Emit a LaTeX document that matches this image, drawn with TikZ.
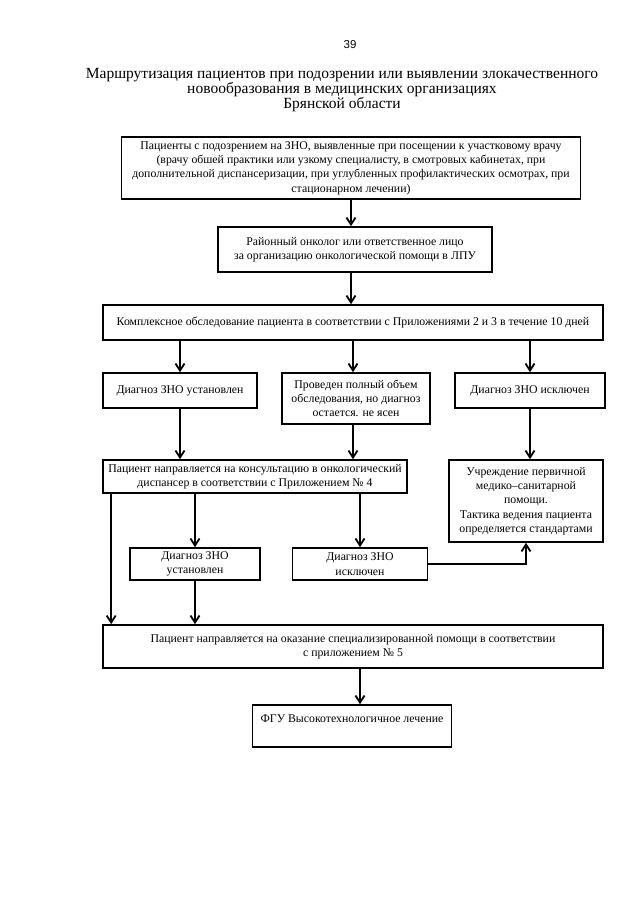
\documentclass[tikz,border=0pt]{standalone}
\usepackage{fontspec}
\setmainfont{Liberation Serif}
\newfontfamily\pagenumfont{Liberation Sans}
\usetikzlibrary{arrows.meta}

\begin{document}
\begin{tikzpicture}[x=1pt,y=-1pt,font=\fontsize{11.8}{14.3}\selectfont,line width=1.8pt,
  >={Straight Barb[length=7pt,width=9pt]},
  box/.style={draw,line width=1.6pt,align=center,inner sep=2pt}]
\fill[white] (0,0) rectangle (640,905);
\useasboundingbox (0,0) rectangle (640,905);
\node[font=\pagenumfont\fontsize{11.5}{13}\selectfont] (pagenum) at (350,45) {39};
\node[font=\fontsize{15.5}{15}\selectfont,align=center] (title) at (342,90)
  {Маршрутизация пациентов при подозрении или выявлении злокачественного\\
   новообразования в медицинских организациях\\ Брянской области};
% first stage
\node[box,minimum width=459pt,minimum height=62pt] (pat) at (351,168)
  {Пациенты с подозрением на ЗНО, выявленные при посещении к участковому врачу\\
   (врачу обшей практики или узкому специалисту, в смотровых кабинетах, при\\
   дополнительной диспансеризации, при углубленных профилактических осмотрах, при\\
   стационарном лечении)};
\node[box,minimum width=274pt,minimum height=45pt] (onk) at (355,249.5)
  {Районный онколог или ответственное лицо\\ за организацию онкологической помощи в ЛПУ};
\node[box,minimum width=500pt,minimum height=35pt] (exam) at (353,322.5)
  {Комплексное обследование пациента в соответствии с Приложениями 2 и 3 в течение 10 дней};
\draw[->] (pat.south) -- (pat.south |- onk.north);
\draw[->] (pat.south |- onk.south) -- (pat.south |- exam.north);
% results
\node[box,minimum width=154pt,minimum height=35pt] (est) at (180,390.5) {Диагноз ЗНО установлен};
\node[box,minimum width=148pt,minimum height=51pt] (unclear) at (356,398.5)
  {Проведен полный объем\\ обследования, но диагноз\\ остается. не ясен};
\node[box,minimum width=150pt,minimum height=35pt] (excl) at (530,390.5) {Диагноз ЗНО исключен};
\draw[->] (est.north |- exam.south) -- (est.north);
\draw[->] (exam.south) -- (exam.south |- unclear.north);
\draw[->] (excl.north |- exam.south) -- (excl.north);
% dispensary
\node[box,minimum width=304pt,minimum height=33pt] (disp) at (255,476.5)
  {Пациент направляется на консультацию в онкологический\\ диспансер в соответствии с Приложением № 4};
\node[box,minimum width=154pt,minimum height=82pt] (pmsp) at (526,501)
  {Учреждение первичной\\ медико–санитарной\\ помощи.\\ Тактика ведения пациента\\ определяется стандартами};
\draw[->] (est.south) -- (est.south |- disp.north);
\draw[->] (exam.south |- unclear.south) -- (exam.south |- disp.north);
\draw[->] (excl.south) -- (excl.south |- pmsp.north);
\node[box,minimum width=130pt,minimum height=32pt] (est2) at (195,564) {Диагноз ЗНО\\ установлен};
\node[box,minimum width=135pt,minimum height=32pt] (excl2) at (360,564) {Диагноз ЗНО\\ исключен};
\draw[->] (est2.north |- disp.south) -- (est2.north);
\draw[->] (excl2.north |- disp.south) -- (excl2.north);
\draw[->] (excl2.east) -| (pmsp.south);
% specialised care
\node[box,minimum width=500pt,minimum height=43pt] (spec) at (353,646.5)
  {Пациент направляется на оказание специализированной помощи в соответствии\\ с приложением № 5};
\coordinate (lft) at ([xshift=9pt]disp.south west);
\draw[->] (lft) -- (lft |- spec.north);
\draw[->] (est2.south) -- (est2.south |- spec.north);
\node[box,minimum width=199pt,inner ysep=0pt,text height=17pt,text depth=25pt] (vmp) at (352,726)
  {ФГУ Высокотехнологичное лечение};
\coordinate (vmpin) at ([xshift=8pt]vmp.north);
\draw[->] (vmpin |- spec.south) -- (vmpin);
\end{tikzpicture}
\end{document}
